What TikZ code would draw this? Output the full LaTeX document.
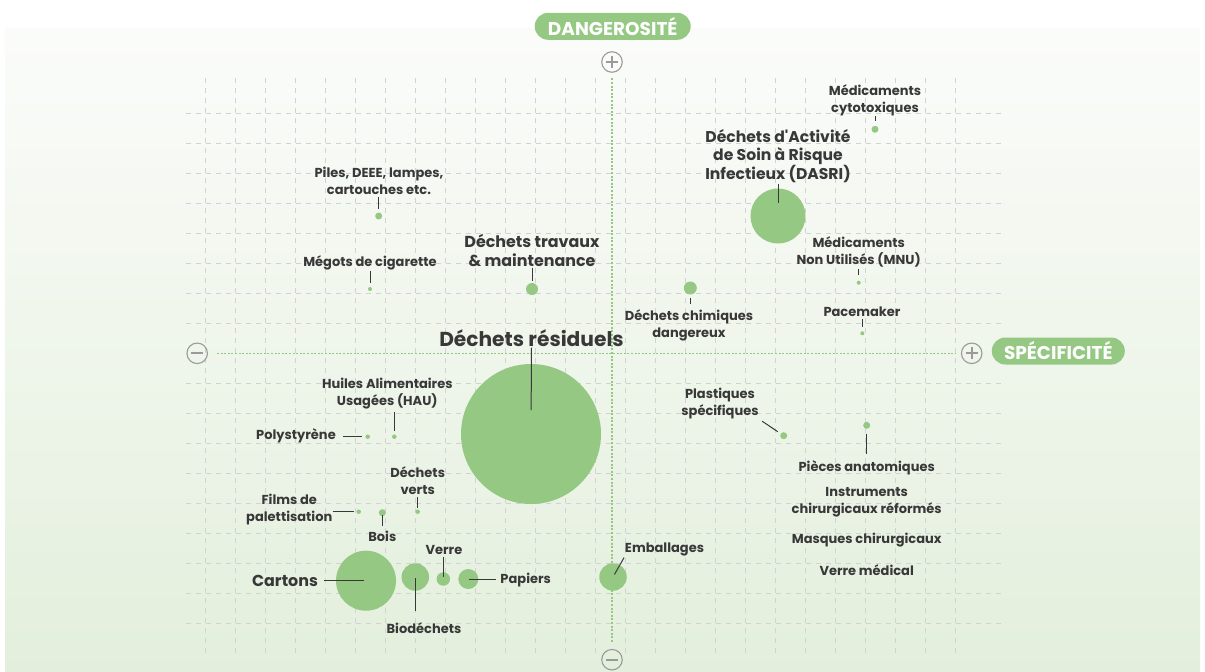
\documentclass[tikz,border=0pt]{standalone}
\usepackage{fontspec}
\setmainfont{Poppins}[Ligatures=TeXOff]
\usetikzlibrary{positioning}
\definecolor{bubgreen}{HTML}{95C883}
\definecolor{ink}{HTML}{383838}
\definecolor{gridgrey}{HTML}{D2D2D2}
\definecolor{signgrey}{HTML}{9A9A9A}
\definecolor{bgtop}{HTML}{FBFCFA}
\definecolor{bgbot}{HTML}{E3EFDC}

\tikzset{
	bub/.style={circle, fill=bubgreen, inner sep=0pt, minimum size=#1},
	lbl/.style={text=ink, align=center, inner sep=0pt, font=\fontsize{13}{17}\selectfont\bfseries},
	midlbl/.style={lbl, font=\fontsize{15.9}{19}\selectfont\bfseries},
	dasrilbl/.style={lbl, font=\fontsize{15.6}{18}\selectfont\bfseries},
	biglbl/.style={lbl, font=\fontsize{20.2}{22}\selectfont\bfseries},
	pill/.style={rectangle, rounded corners=13.5pt, fill=bubgreen, text=white, inner sep=0pt,
		minimum height=27pt, minimum width=#1, font=\fontsize{18.5}{20}\selectfont\bfseries},
	sign/.style={circle, draw=signgrey, line width=1.1pt, minimum size=20.5pt, inner sep=0pt},
	signbar/.style={signgrey, line width=2.2pt},
	gridline/.style={gridgrey, line width=0.9pt, dash pattern=on 5pt off 5pt},
	axisline/.style={bubgreen, line width=1.1pt, dash pattern=on 2pt off 1.6pt},
	leader/.style={draw=ink, line width=1pt, shorten <=2pt, shorten >=3.5pt}
}

\begin{document}
\begin{tikzpicture}[x=1pt, y=-1pt]
	\useasboundingbox (0,0) rectangle (1205,672);
	\fill[white] (0,0) rectangle (1205,672);
	\shade[top color=bgtop, bottom color=bgbot] (5,28) rectangle (1200,672);

	% grid
	\foreach \x in {205,235,...,955}
		\draw[gridline] (\x,78) -- (\x,654);
	\foreach \y in {113,143,...,323}
		\draw[gridline] (186,\y) -- (1003,\y);
	\foreach \y in {383,413,...,623}
		\draw[gridline] (186,\y) -- (1003,\y);

	% axes
	\node[sign] (top) at (612,62) {};
	\node[sign] (bot) at (612,659.7) {};
	\node[sign] (left) at (197.2,353.3) {};
	\node[sign] (right) at (971.7,353.3) {};
	\foreach \s in {top,bot,left,right}
		\draw[signbar] ([xshift=-6pt]\s.center) -- ([xshift=6pt]\s.center);
	\foreach \s in {top,right}
		\draw[signbar] ([yshift=-6pt]\s.center) -- ([yshift=6pt]\s.center);
	\draw[axisline, shorten <=5.5pt, shorten >=7pt] (top) -- (bot);
	\draw[axisline, shorten <=9pt, shorten >=5.5pt] (left) -- (right);

	\node[pill=156pt] (dang) at (612.7,26.3) {DANGEROSITÉ};
	\node[pill=133pt] (spec) at (1058.3,351) {SPÉCIFICITÉ};

	% bubbles
	\node[bub=140pt] (resid) at (531,434) {};
	\node[bub=55pt] (dasri) at (778,216) {};
	\node[bub=7pt] (cyto) at (875,129.3) {};
	\node[bub=4pt] (mnu) at (858.7,282.7) {};
	\node[bub=4pt] (pace) at (862.3,333.3) {};
	\node[bub=13pt] (chim) at (690.3,288) {};
	\node[bub=12pt] (trav) at (532,289) {};
	\node[bub=7pt] (piles) at (378.7,216) {};
	\node[bub=4pt] (megot) at (370,289) {};
	\node[bub=4.5pt] (hau) at (394.3,436.7) {};
	\node[bub=4.5pt] (poly) at (367.7,436.7) {};
	\node[bub=4.5pt] (verts) at (417.7,511.7) {};
	\node[bub=4.5pt] (films) at (358.7,511.7) {};
	\node[bub=7pt] (bois) at (382.3,512.7) {};
	\node[bub=60pt] (cart) at (366,580.7) {};
	\node[bub=27.5pt] (bio) at (415.3,577) {};
	\node[bub=13.5pt] (verre) at (443.3,579) {};
	\node[bub=20pt] (pap) at (468.3,579) {};
	\node[bub=27.5pt] (emb) at (613,577) {};
	\node[bub=7pt] (plast) at (783.7,435.7) {};
	\node[bub=7pt] (pieces) at (866.7,425.3) {};

	% labels
	\node[biglbl] (residL) at (531.5,338) {Déchets résiduels};
	\node[dasrilbl] (dasriL) at (778,156) {Déchets d'Activité\\de Soin à Risque\\Infectieux (DASRI)};
	\node[lbl] (cytoL) at (875,100) {Médicaments\\cytotoxiques};
	\node[lbl] (mnuL) at (858.7,252) {Médicaments\\Non Utilisés (MNU)};
	\node[lbl] (paceL) at (862,311.5) {Pacemaker};
	\node[lbl] (chimL) at (689,325.3) {Déchets chimiques\\dangereux};
	\node[midlbl] (travL) at (532,250.5) {Déchets travaux\\\& maintenance};
	\node[lbl] (pilesL) at (379,181.3) {Piles, DEEE, lampes,\\cartouches etc.};
	\node[lbl] (megotL) at (370,262.5) {Mégots de cigarette};
	\node[lbl] (hauL) at (387.3,393.3) {Huiles Alimentaires\\Usagées (HAU)};
	\node[lbl] (polyL) at (296,435.8) {Polystyrène};
	\node[lbl] (vertsL) at (417.7,481) {Déchets\\verts};
	\node[lbl] (filmsL) at (289.3,510) {Films de\\palettisation};
	\node[lbl] (boisL) at (382.3,536) {Bois};
	\node[midlbl] (cartL) at (285,581) {Cartons};
	\node[lbl] (bioL) at (424,628) {Biodéchets};
	\node[lbl] (verreL) at (444,549.5) {Verre};
	\node[lbl] (papL) at (525.7,580.3) {Papiers};
	\node[lbl] (embL) at (664.5,549.5) {Emballages};
	\node[lbl] (plastL) at (720,403.3) {Plastiques\\spécifiques};
	\node[lbl] (piecesL) at (866.7,467.5) {Pièces anatomiques};
	\node[lbl, below=12pt of piecesL] (instrL) {Instruments\\chirurgicaux réformés};
	\node[lbl, below=16pt of instrL] (masqL) {Masques chirurgicaux};
	\node[lbl, below=17pt of masqL] (vmedL) {Verre médical};

	% leaders
	\path[leader]
		(residL.south) edge[shorten <=1pt, shorten >=24pt] (resid.center)
		(dasriL.south) edge[shorten <=0.5pt, shorten >=13pt] (dasri.center)
		(cyto |- cytoL.south) edge[shorten <=0pt, shorten >=4.3pt] (cyto)
		(mnu |- mnuL.south) edge[shorten >=5.7pt] (mnu)
		(pace |- paceL.south) edge[shorten <=2pt, shorten >=4.6pt] (pace)
		(chim) edge[shorten <=3.7pt, shorten >=5.3pt] (chim |- chimL.north)
		(trav |- travL.south) edge[shorten <=1pt, shorten >=2pt] (trav)
		(piles |- pilesL.south) edge (piles)
		(megot |- megotL.south) edge[shorten <=1.5pt, shorten >=4.3pt] (megot)
		(hau |- hauL.south) edge[shorten <=2.7pt, shorten >=2.8pt] (hau)
		(polyL.east |- poly) edge[shorten <=7pt, shorten >=2.8pt] (poly)
		(verts |- vertsL.south) edge[shorten <=1.7pt, shorten >=1.2pt] (verts)
		(filmsL.east |- films) edge[shorten <=0pt, shorten >=2.2pt] (films)
		(bois.center) edge[shorten <=2.5pt, shorten >=5pt] (bois |- boisL.north)
		(cartL.east |- cart) edge[shorten <=6pt, shorten >=1.7pt] (cart.center)
		(bio.center) edge[shorten <=1pt, shorten >=11pt] (bio |- bioL.north)
		(verre |- verreL.south) edge[shorten <=2.5pt, shorten >=2.3pt] (verre.center)
		(pap.center) edge[shorten <=1pt, shorten >=4pt] (papL.west |- pap)
		(emb.center) edge[shorten <=3pt, shorten >=1.5pt] (embL.south west)
		(plastL.south east) edge[shorten <=4pt, shorten >=3.5pt] (plast)
		(pieces) edge[shorten <=4.7pt, shorten >=6pt] (pieces |- piecesL.north);
\end{tikzpicture}
\end{document}
